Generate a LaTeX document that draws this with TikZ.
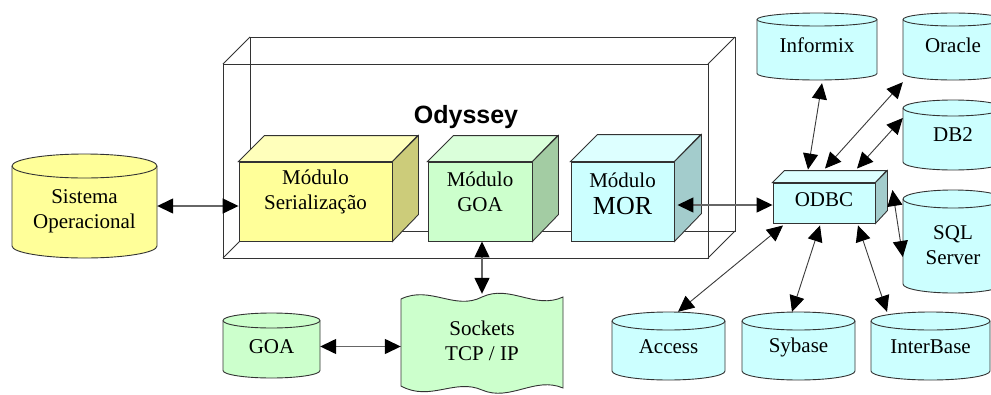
\documentclass[tikz,border=0pt]{standalone}
\usepackage{fontspec}
\setmainfont{Liberation Serif}
\newfontfamily\odysans{Liberation Sans}
\usetikzlibrary{arrows.meta,calc}
\definecolor{yelF}{HTML}{FFFF99}
\definecolor{yelT}{HTML}{FFFFBB}
\definecolor{yelS}{HTML}{CCCC7A}
\definecolor{grnF}{HTML}{CCFFCC}
\definecolor{grnT}{HTML}{DAFFDA}
\definecolor{grnS}{HTML}{A3CCA3}
\definecolor{cyaF}{HTML}{CCFFFF}
\definecolor{cyaT}{HTML}{DDFFFF}
\definecolor{cyaS}{HTML}{A3CCCC}
\definecolor{lineC}{HTML}{333333}
\definecolor{arrC}{HTML}{3A3A3A}
\newcommand\mkcyl[9]{% name, cx, top, bottom, hw, ry, fill, text, text shift down
  \draw[shapeline, fill=#7] (#2-#5,#3+#6) -- (#2-#5,#4-#6)
     arc[start angle=180,end angle=360,x radius=#5pt,y radius=#6pt] -- (#2+#5,#3+#6)
     arc[start angle=0,end angle=180,x radius=#5pt,y radius=#6pt] -- cycle;
  \draw[shapeline] (#2-#5,#3+#6) arc[start angle=180,end angle=360,x radius=#5pt,y radius=#6pt];
  \node[inner sep=0pt, minimum width={2*#5pt}, minimum height={(#4-#3)*1pt},
        label={[lbl, yshift=-#9pt]center:#8}] (#1) at (#2,{(#3+#4)/2}) {};
}
\newcommand\mkcube[9]{% name, x1, y1, x2, y2, depth, colour prefix, text, text shift up
  \node[shapeline, fill=#7F, inner sep=0pt, minimum width={(#4-#2)*1pt}, minimum height={(#5-#3)*1pt}] (#1) at ({(#2+#4)/2},{(#3+#5)/2}) {};
  \draw[shapeline, fill=#7T] (#1.north west) -- ++(#6,-#6) -- ++({#4-#2},0) -- (#1.north east) -- cycle;
  \draw[shapeline, fill=#7S] (#1.north east) -- ++(#6,-#6) -- ++(0,{#5-#3}) -- (#1.south east) -- cycle;
  \node[lbl] at ([yshift=#9pt]#1.center) {#8};
}
\begin{document}
\begin{tikzpicture}[x=1pt,y=-1pt,
  shapeline/.style={draw=lineC, line width=0.9pt},
  frame/.style={draw=black!80, line width=1pt},
  lbl/.style={font=\fontsize{21}{25}\selectfont, align=center, inner sep=0pt},
  tip/.tip={Triangle[length=16pt,width=15pt,color=black]},
  dbl/.style={tip-tip, draw=arrC, line width=0.9pt},
  dblthick/.style={tip-tip, draw=black!60, line width=1.4pt}]
\path[use as bounding box, clip] (0,0) rectangle (991,394);
\fill[white] (0,0) rectangle (991,394);

% Odyssey transparent box
\draw[frame] (250,37) rectangle (735,231);
\draw[frame] (223,64) rectangle (708,258);
\draw[frame] (223,64) -- (250,37) (708,64) -- (735,37) (708,258) -- (735,231) (223,258) -- (250,231);
\node[font=\odysans\bfseries\fontsize{25}{30}\selectfont] (ody) at (466,117) {Odyssey};

% cylinders
\mkcyl{sis}{84.5}{154}{258}{72.5}{12}{yelF}{Sistema\\Operacional}{5}
\mkcyl{inf}{817}{13}{80}{60}{6.5}{cyaF}{Informix}{-1}
\mkcyl{ora}{953}{13}{80}{50}{6.5}{cyaF}{Oracle}{-1}
\mkcyl{db2}{953}{100}{170}{50}{8}{cyaF}{DB2}{0}
\mkcyl{sql}{953}{190}{293}{50}{9}{cyaF}{SQL\\Server}{4}
\mkcyl{acc}{668.5}{312}{380}{56.5}{9}{cyaF}{Access}{1}
\mkcyl{syb}{798.5}{312}{380}{56.5}{9}{cyaF}{Sybase}{1}
\mkcyl{itb}{930.5}{312}{380}{59.5}{9}{cyaF}{InterBase}{1}
\mkcyl{goac}{271.5}{313}{378}{48.5}{7.5}{grnF}{GOA}{1}

% cubes
\mkcube{ser}{239}{162}{392}{241}{26}{yel}{Módulo\\Serialização}{9.5}
\mkcube{goam}{428}{162}{532}{241}{26}{grn}{Módulo\\GOA}{9.5}
\mkcube{mor}{571}{162}{674}{241}{27}{cya}{Módulo\\[2pt]{\fontsize{26}{30}\selectfont MOR}}{8}
\mkcube{odbc}{773}{183}{875}{223}{12}{cya}{ODBC}{3}

% sockets
\draw[shapeline, fill=grnF] (401,299) .. controls (430,285) and (455,311) .. (482,297)
  .. controls (510,284) and (535,310) .. (563,297) -- (563,388)
  .. controls (535,376) and (510,402) .. (482,390)
  .. controls (455,378) and (430,402) .. (401,386) -- cycle;
\node[lbl, minimum width=162pt, minimum height=94pt] (sock) at (482,341) {Sockets\\TCP / IP};

% connectors
\draw[dblthick] (sis.east) -- (sis.east -| ser.west);
\draw[dblthick] ($(mor.east |- odbc.west)+(3,2)$) -- ($(odbc.west)+(0,2)$);
\draw[dblthick] ([xshift=2pt]goam.south) -- ([xshift=2pt]goam.south |- sock.north);
\draw[dblthick] ($(goac.east)+(0,1)$) -- ($(goac.east -| sock.west)+(0,1)$);

\draw[dbl] ($(inf.south)+(5,3)$) -- ($(odbc.north)+(-16,-13)$);
\draw[dbl] ($(ora.south west)+(0,2)$) -- ($(odbc.north)+(1,-14)$);
\draw[dbl] ($(db2.west)+(0,-17)$) -- ($(odbc.north)+(33,-14)$);
\draw[dbl] ($(odbc.east)+(17,-13)$) -- ($(sql.west)+(0,15.5)$);
\draw[dbl] ($(odbc.south)+(-41,2)$) -- ($(acc.north)+(9.5,0)$);
\draw[dbl] ($(odbc.south)+(-4,2)$) -- ($(syb.north)+(-6.5,0)$);
\draw[dbl] ($(odbc.south)+(34,2)$) -- ($(itb.north)+(-43.5,0)$);
\end{tikzpicture}
\end{document}
